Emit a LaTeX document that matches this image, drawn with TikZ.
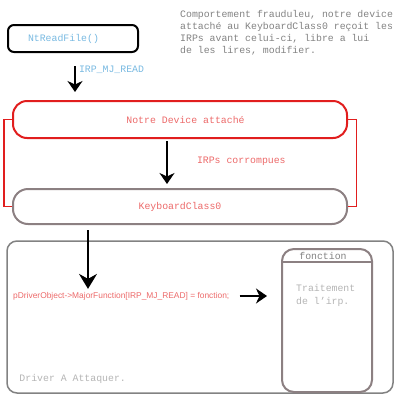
\documentclass[tikz,border=0pt]{standalone}
\usepackage{fontspec}
\setmainfont{Liberation Mono}
\newfontfamily\codefont{Liberation Sans}
\usetikzlibrary{arrows.meta,positioning}
\definecolor{lblue}{RGB}{120,185,225}
\definecolor{boxred}{RGB}{225,30,30}
\definecolor{txtred}{RGB}{236,105,105}
\definecolor{boxgray}{RGB}{140,128,130}
\definecolor{txtgray}{RGB}{130,130,130}
\definecolor{ltgray}{RGB}{180,180,180}
\tikzset{
  roundbox/.style={draw, line width=2pt, inner sep=0pt},
  arr/.style={line width=2pt, -{Stealth[length=11pt,width=15pt,inset=3.5pt]}},
  bigarr/.style={line width=2pt, -{Stealth[length=15pt,width=18pt,inset=5pt]}},
  lbl/.style={inner sep=0pt, font=\fontsize{9.85}{12}\selectfont},
}
\begin{document}
\begin{tikzpicture}[x=1pt, y=-1pt]
        \useasboundingbox (0, 0) rectangle (400, 400);
        % call from user mode
        \node[roundbox, lbl, rounded corners=6pt, minimum width=130pt, minimum height=27pt,
              text width=90pt, inner xsep=20pt, align=left, text=lblue] (ntread) at (73, 38.5) {NtReadFile()};
        \node[lbl, text=txtgray, anchor=north west, align=left] (note) at (180, 10.5)
              {Comportement frauduleu, notre device\\attach\'e au KeyboardClass0 re\c{c}oit les\\IRPs avant celui-ci, libre a lui\\de les lires, modifier.};
        % filter device + target
        \node[roundbox, lbl, draw=boxred, rounded corners=14pt, minimum width=334pt, minimum height=37pt,
              text=txtred] (device) at (180, 119.5) {\hspace{11pt}Notre Device attach\'e};
        \node[roundbox, lbl, draw=boxgray, rounded corners=15pt, minimum width=334pt, minimum height=35pt,
              text=txtred] (keyb) at (180, 206.5) {KeyboardClass0\hspace{3pt}};
        \draw[boxred, line width=1pt] (device.west) -- ++(-8, 0) |- (keyb.west);
        \draw[boxred, line width=1pt] (device.east) -- ++(8, 0) |- (keyb.east);
        \draw[arr, shorten <=13pt, shorten >=8pt] ([xshift=2pt]ntread.south) -- ([xshift=2pt]ntread.south |- device.north)
              node[lbl, text=lblue, pos=0.35, right=3pt] (irp) {IRP\_MJ\_READ};
        \draw[arr, shorten <=2pt, shorten >=4pt] ([xshift=-13pt]device.south) -- ([xshift=-13pt]keyb.north)
              node[lbl, text=txtred, pos=0.45, right=29pt] (corr) {IRPs corrompues};
        % driver to attack
        \node[draw=txtgray, line width=1.5pt, rounded corners=10pt, minimum width=386pt, minimum height=152pt] (driver) at (200, 317) {};
        \node[lbl, text=ltgray, anchor=west] (drvname) at ([xshift=13pt, yshift=15pt]driver.south west) {Driver A Attaquer.};
        \node[inner sep=0pt, anchor=west, text=txtred, font=\codefont\fontsize{8.4}{10}\selectfont] (code) at (13, 296)
              {pDriverObject->MajorFunction[IRP\_MJ\_READ] = fonction;};
        \node[roundbox, draw=boxgray, rounded corners=12pt, minimum width=90pt, minimum height=143pt] (fonc) at (327, 320.5) {};
        \draw[boxgray, line width=1.5pt] ([yshift=-14pt]fonc.north west) -- ([yshift=-14pt]fonc.north east);
        \node[lbl, text=txtgray] (foncname) at ([xshift=-4pt, yshift=-7.5pt]fonc.north) {fonction};
        \node[lbl, text=ltgray, anchor=north west, align=left, font=\fontsize{9.85}{13}\selectfont] (trait)
              at ([xshift=15pt, yshift=-36pt]fonc.north west) {Traitement\\de l'irp.};
        \draw[bigarr, shorten >=3pt] ([xshift=-92pt, yshift=-5pt]keyb.south) -- ([xshift=-92pt]keyb.south |- code.north);
        \draw[arr, shorten <=10pt, shorten >=14pt] (code.east) -- (code.east -| fonc.west);
    \end{tikzpicture}
\end{document}
